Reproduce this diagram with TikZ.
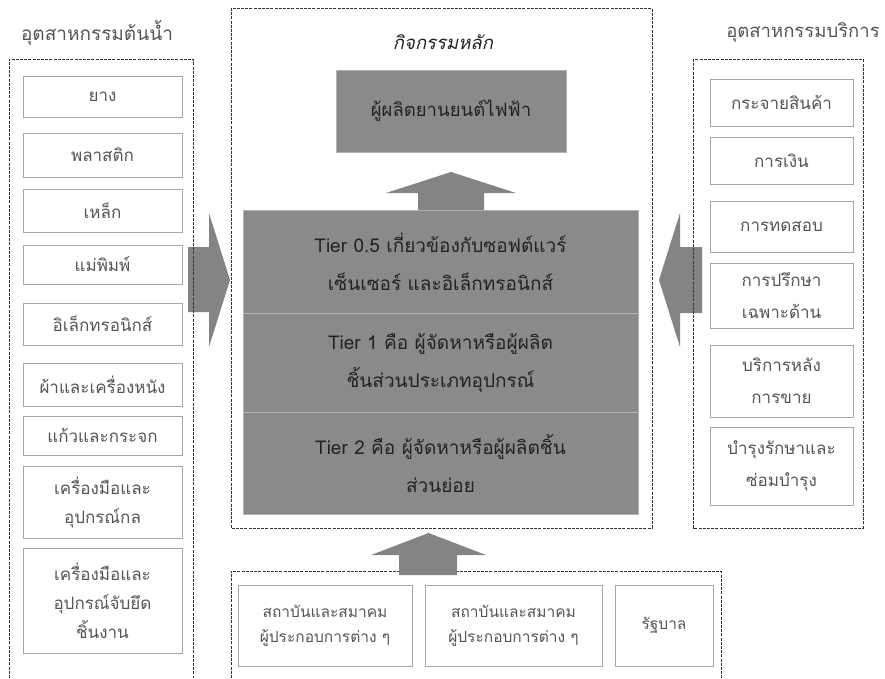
\documentclass[tikz,border=0pt]{standalone}
\usepackage{fontspec}
\setmainfont[Script=Thai]{Loma}
\definecolor{blockgray}{HTML}{8A8A8A}
\definecolor{arrowgray}{HTML}{848484}
\definecolor{frameline}{HTML}{333333}
\definecolor{boxline}{HTML}{A6A6A6}
\definecolor{sidetext}{HTML}{555555}
\definecolor{tiertext}{HTML}{222222}

\begin{document}
\begin{tikzpicture}[x=1pt,y=-1pt,
  sidebox/.style={draw=boxline, line width=0.6pt, text=sidetext, align=center,
    inner sep=0pt, font=\fontsize{17}{29}\selectfont},
  leftbox/.style={sidebox, minimum width=159pt},
  rightbox/.style={sidebox, minimum width=143pt, font=\fontsize{17}{32}\selectfont},
  lowbox/.style={sidebox, font=\fontsize{15.5}{25}\selectfont},
  tierbox/.style={fill=blockgray, draw=gray!60, line width=0.6pt, text=tiertext,
    align=center, inner sep=0pt, minimum width=395pt, font=\fontsize{19}{38}\selectfont},
  dashframe/.style={draw=frameline, line width=1pt, dash pattern=on 3pt off 1.2pt},
  grouptitle/.style={text=sidetext, font=\fontsize{19}{22}\selectfont}]
  \useasboundingbox (0,0) rectangle (885,678);

  % Block arrows
  \fill[arrowgray] (188,247) -- (209,247) -- (209,213) -- (230,280) -- (209,347)
    -- (209,312) -- (188,312) -- cycle;
  \fill[arrowgray] (702,247) -- (680,247) -- (680,213) -- (659,280) -- (680,347)
    -- (680,313) -- (702,313) -- cycle;
  \fill[arrowgray] (418,214) -- (418,193) -- (386,193) -- (451,172) -- (516,193)
    -- (484,193) -- (484,214) -- cycle;

  % Dashed frames
  \draw[dashframe] (9,678) -- (9,59) -- (193,59) -- (193,678);
  \draw[dashframe] (231,8) rectangle (652,528);
  \draw[dashframe] (693,59) rectangle (863,528);
  \draw[dashframe] (231,678) -- (231,571) -- (721,571) -- (721,678);

  % Titles
  \node[grouptitle] (upstream) at (97,33) {อุตสาหกรรมต้นน้ำ};
  \node[grouptitle, font=\fontsize{18.5}{22}\selectfont] (service) at (803,32) {อุตสาหกรรมบริการ};
  \node[grouptitle, text=tiertext, font=\fontsize{18.5}{22}\selectfont\itshape] (core) at (443,42) {กิจกรรมหลัก};

  % Upstream industries
  \node[leftbox, minimum height=41pt] (rubber) at (102.5,96.5) {ยาง};
  \node[leftbox, minimum height=44pt] (plastic) at (102.5,155) {พลาสติก};
  \node[leftbox, minimum height=43pt] (steel) at (102.5,210.5) {เหล็ก};
  \node[leftbox, minimum height=39pt] (mould) at (102.5,264.5) {แม่พิมพ์};
  \node[leftbox, minimum height=42pt] (electronics) at (102.5,324) {อิเล็กทรอนิกส์};
  \node[leftbox, minimum height=43pt] (leather) at (102.5,384.5) {ผ้าและเครื่องหนัง};
  \node[leftbox, minimum height=39pt] (glass) at (102.5,435.5) {แก้วและกระจก};
  \node[leftbox, minimum height=72pt] (tools) at (102.5,502) {เครื่องมือและ\\อุปกรณ์กล};
  \node[leftbox, minimum height=105pt] (fixtures) at (102.5,600.5) {เครื่องมือและ\\อุปกรณ์จับยึด\\ชิ้นงาน};

  % Core activities
  \node[tierbox, minimum width=230pt, minimum height=82pt, font=\fontsize{18.5}{22}\selectfont] (maker) at (451,111) {ผู้ผลิตยานยนต์ไฟฟ้า};
  \node[tierbox, minimum height=103pt] (tierhalf) at (440.5,261.5) {Tier 0.5 เกี่ยวข้องกับซอฟต์แวร์\\เซ็นเซอร์ และอิเล็กทรอนิกส์};
  \node[tierbox, minimum height=99pt] (tierone) at (440.5,362.5) {Tier 1 คือ ผู้จัดหาหรือผู้ผลิต\\ชิ้นส่วนประเภทอุปกรณ์};
  \node[tierbox, minimum height=102pt] (tiertwo) at (440.5,463) {Tier 2 คือ ผู้จัดหาหรือผู้ผลิตชิ้น\\ส่วนย่อย};

  % Service industries
  \node[rightbox, minimum height=47pt] (logistics) at (781.5,102.5) {กระจายสินค้า};
  \node[rightbox, minimum height=47pt] (finance) at (781.5,160.5) {การเงิน};
  \node[rightbox, minimum height=51pt] (testing) at (781.5,226.5) {การทดสอบ};
  \node[rightbox, minimum height=65pt] (consult) at (781.5,295.5) {การปรึกษา\\เฉพาะด้าน};
  \node[rightbox, minimum height=72pt] (aftersales) at (781.5,381) {บริการหลัง\\การขาย};
  \node[rightbox, minimum height=78pt] (repair) at (781.5,466) {บำรุงรักษาและ\\ซ่อมบำรุง};

  % Supporting bodies
  \fill[arrowgray] (399,575) -- (399,555) -- (371,555) -- (428.5,533) -- (486,555)
    -- (457,555) -- (457,575) -- cycle;
  \node[lowbox, minimum width=174pt, minimum height=81pt] (assocone) at (325,625.5) {สถาบันและสมาคม\\ผู้ประกอบการต่าง ๆ};
  \node[lowbox, minimum width=177pt, minimum height=81pt] (assoctwo) at (513.5,625.5) {สถาบันและสมาคม\\ผู้ประกอบการต่าง ๆ};
  \node[lowbox, minimum width=98pt, minimum height=81pt] (govt) at (664,625.5) {รัฐบาล};
\end{tikzpicture}
\end{document}
